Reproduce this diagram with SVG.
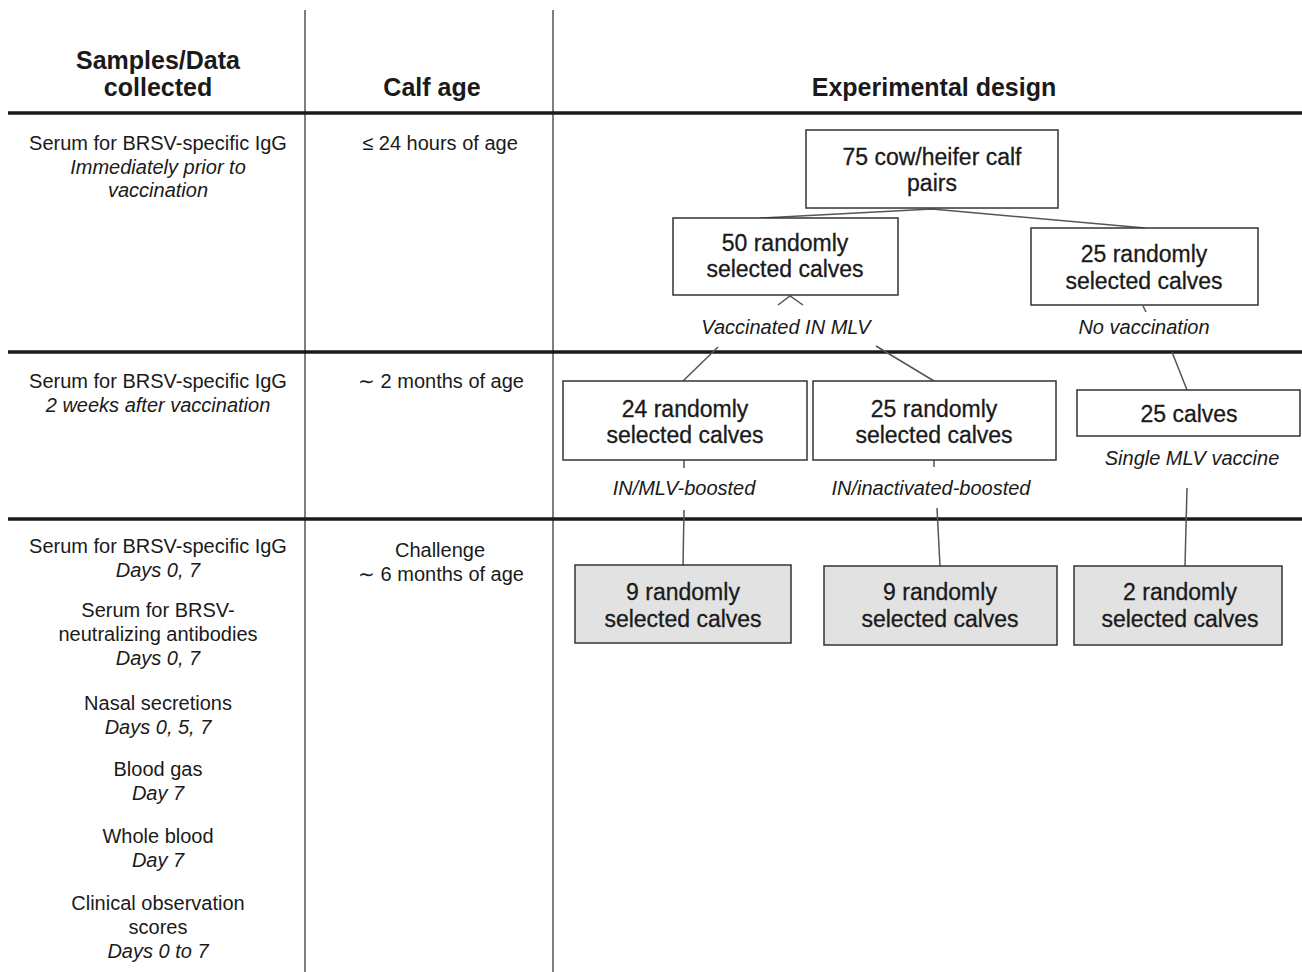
<svg xmlns="http://www.w3.org/2000/svg" width="1302" height="972" viewBox="0 0 1302 972">
<style>
text{font-family:"Liberation Sans",Arial,sans-serif;fill:#1a1a1a;text-anchor:middle}
.h{font-size:25px;font-weight:bold}
.t{font-size:20px}
.i{font-size:20px;font-style:italic}
.b{font-size:23px;stroke:#1a1a1a;stroke-width:0.3}
.box{fill:#fff;stroke:#333;stroke-width:1.5}
.gbox{fill:#e2e2e2;stroke:#333;stroke-width:1.5}
.rule{stroke:#1a1a1a;stroke-width:3.5}
.col{stroke:#555;stroke-width:1.5}
.con{stroke:#555;stroke-width:1.5;fill:none}
</style>
<rect width="1302" height="972" fill="#fff"/>
<g id="grid">
<line class="col" x1="305" y1="10" x2="305" y2="972"/>
<line class="col" x1="553" y1="10" x2="553" y2="972"/>
<line class="rule" x1="8" y1="113" x2="1302" y2="113"/>
<line class="rule" x1="8" y1="352" x2="1302" y2="352"/>
<line class="rule" x1="8" y1="519" x2="1302" y2="519"/>
</g>
<g id="headers">
<text class="h" x="158" y="69">Samples/Data</text>
<text class="h" x="158" y="96">collected</text>
<text class="h" x="432" y="96">Calf age</text>
<text class="h" x="934" y="96">Experimental design</text>
</g>
<g id="samples">
<text class="t" x="158" y="150">Serum for BRSV-specific IgG</text>
<text class="i" x="158" y="174">Immediately prior to</text>
<text class="i" x="158" y="197">vaccination</text>
<text class="t" x="158" y="388">Serum for BRSV-specific IgG</text>
<text class="i" x="158" y="412">2 weeks after vaccination</text>
<text class="t" x="158" y="553">Serum for BRSV-specific IgG</text>
<text class="i" x="158" y="577">Days 0, 7</text>
<text class="t" x="158" y="617">Serum for BRSV-</text>
<text class="t" x="158" y="641">neutralizing antibodies</text>
<text class="i" x="158" y="665">Days 0, 7</text>
<text class="t" x="158" y="710">Nasal secretions</text>
<text class="i" x="158" y="734">Days 0, 5, 7</text>
<text class="t" x="158" y="776">Blood gas</text>
<text class="i" x="158" y="800">Day 7</text>
<text class="t" x="158" y="843">Whole blood</text>
<text class="i" x="158" y="867">Day 7</text>
<text class="t" x="158" y="910">Clinical observation</text>
<text class="t" x="158" y="934">scores</text>
<text class="i" x="158" y="958">Days 0 to 7</text>
</g>
<g id="ages">
<text class="t" x="440" y="150">≤ 24 hours of age</text>
<text class="t" x="441" y="388">∼ 2 months of age</text>
<text class="t" x="440" y="557">Challenge</text>
<text class="t" x="441" y="581">∼ 6 months of age</text>
</g>
<g id="connectors">
<polyline class="con" points="760,218 932,209 1145,228"/>
<polyline class="con" points="778,305 790,296 803,305"/>
<line class="con" x1="1143" y1="306" x2="1146" y2="312"/>
<line class="con" x1="718" y1="347" x2="683" y2="381"/>
<line class="con" x1="876" y1="346" x2="934" y2="381"/>
<line class="con" x1="1172" y1="352" x2="1187" y2="390"/>
<line class="con" x1="684" y1="460" x2="684" y2="468"/>
<line class="con" x1="684" y1="510" x2="683" y2="566"/>
<line class="con" x1="934" y1="460" x2="934" y2="467"/>
<line class="con" x1="937" y1="508" x2="940" y2="566"/>
<line class="con" x1="1187" y1="488" x2="1185" y2="566"/>
</g>
<g id="n75">
<rect class="box" x="806" y="130" width="252" height="78"/>
<text class="b" x="932" y="165">75 cow/heifer calf</text>
<text class="b" x="932" y="191">pairs</text>
</g>
<g id="n50">
<rect class="box" x="673" y="218" width="225" height="77"/>
<text class="b" x="785" y="251">50 randomly</text>
<text class="b" x="785" y="277">selected calves</text>
</g>
<g id="n25a">
<rect class="box" x="1031" y="228" width="227" height="77"/>
<text class="b" x="1144" y="262">25 randomly</text>
<text class="b" x="1144" y="289">selected calves</text>
</g>
<g id="lbl1">
<text class="i" x="786" y="334">Vaccinated IN MLV</text>
<text class="i" x="1144" y="334">No vaccination</text>
</g>
<g id="n24">
<rect class="box" x="563" y="381" width="244" height="79"/>
<text class="b" x="685" y="417">24 randomly</text>
<text class="b" x="685" y="443">selected calves</text>
</g>
<g id="n25b">
<rect class="box" x="813" y="381" width="243" height="79"/>
<text class="b" x="934" y="417">25 randomly</text>
<text class="b" x="934" y="443">selected calves</text>
</g>
<g id="n25c">
<rect class="box" x="1077" y="390" width="223" height="46"/>
<text class="b" x="1189" y="422">25 calves</text>
</g>
<g id="lbl2">
<text class="i" x="1192" y="465">Single MLV vaccine</text>
<text class="i" x="684" y="495">IN/MLV-boosted</text>
<text class="i" x="931" y="495">IN/inactivated-boosted</text>
</g>
<g id="g9a">
<rect class="gbox" x="575" y="565" width="216" height="78"/>
<text class="b" x="683" y="600">9 randomly</text>
<text class="b" x="683" y="627">selected calves</text>
</g>
<g id="g9b">
<rect class="gbox" x="824" y="566" width="233" height="79"/>
<text class="b" x="940" y="600">9 randomly</text>
<text class="b" x="940" y="627">selected calves</text>
</g>
<g id="g2">
<rect class="gbox" x="1074" y="566" width="208" height="79"/>
<text class="b" x="1180" y="600">2 randomly</text>
<text class="b" x="1180" y="627">selected calves</text>
</g>
</svg>
